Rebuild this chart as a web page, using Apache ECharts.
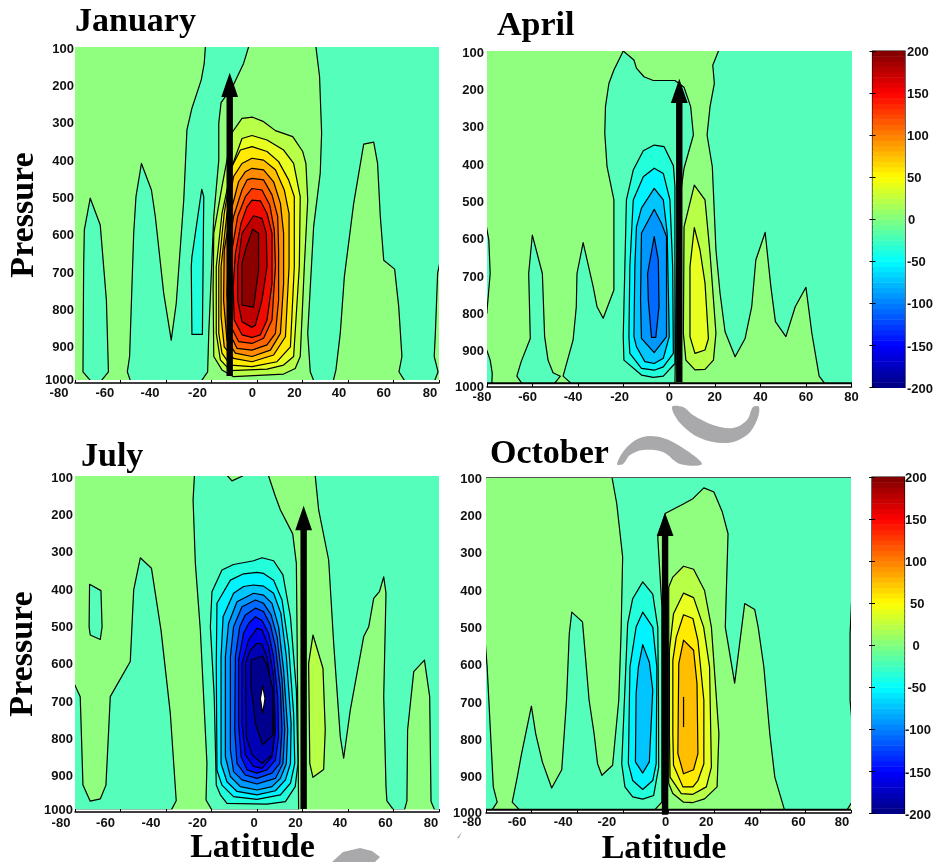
<!DOCTYPE html>
<html><head><meta charset="utf-8">
<script src="https://cdn.jsdelivr.net/npm/echarts@6/dist/echarts.min.js"></script>
<style>html,body{margin:0;padding:0;background:#fff}#c{width:933px;height:862px}</style>
</head><body><div id="c"></div>
<script>
// Tick labels and titles
const monthNames = ['January','April','July','October'];
const latTicks = [-80,-60,-40,-20,0,20,40,60,80];
const pressureTicks = [100,200,300,400,500,600,700,800,900,1000];
const colorbarTicks = [-200,-150,-100,-50,0,50,100,150,200];

// Filled contour regions: [band index, [[latitude, pressure], ...]]
const januaryBands = [
 [-1,[[-76.5,970],[-76.2,688],[-75.9,590],[-73.3,505],[-68.9,577],[-66.2,778],[-65.3,970],[-68.6,995],[-73,995]]],
 [-1,[[-57,970],[-56,929],[-54.2,599],[-53.2,501],[-50.8,412],[-46.4,483],[-44.7,554],[-41,760],[-37.7,885],[-35.5,787],[-32.2,510],[-30.8,322],[-28.6,264],[-24.5,188],[-23.2,144],[-22.7,100],[-22.7,90],[-3.7,90],[-3.7,100],[-5.9,144],[-10.7,206],[-15.8,249],[-16.8,304],[-16.8,403],[-19,554],[-21.2,867],[-21.7,970],[-24.5,995],[-55.6,995]]],
 [-2,[[-28.6,870],[-28.9,688],[-28.6,662],[-24.3,481],[-23.4,501],[-24,870]]],
 [-1,[[25.9,90],[25.9,100],[27.5,179],[28.4,331],[27.8,438],[24.9,581],[22.3,867],[23.4,970],[25,995],[33.5,995],[34.7,965],[36.6,867],[38.4,715],[42.5,519],[46.9,360],[51.3,355],[53,412],[54.2,554],[55.7,671],[60.5,695],[62.3,796],[63.7,929],[62.4,970],[65,995],[78,995],[79.6,970],[77.9,929],[78.4,867],[79.4,706],[80.6,671],[82,650],[82,90]]],
 [1,[[-10.7,327],[-6.6,291],[-1.9,288],[2.9,300],[8.1,324],[15.7,340],[20.1,380],[21.5,412],[22.3,510],[20.8,688],[19,929],[16.8,961],[11.7,976],[-10.3,983],[-15.4,965],[-19,929],[-19.3,751],[-19,599],[-15.4,474],[-13.2,403]]],
 [2,[[-11,420],[-6.6,345],[-2.2,337],[4.4,349],[11.7,376],[16.1,412],[19,501],[18.6,688],[16.1,929],[11.7,952],[4.4,963],[-11.7,967],[-16.1,938],[-17.9,867],[-17.9,688],[-15.4,546]]],
 [3,[[-7.3,376],[-2.2,367],[4.4,380],[9.5,407],[13.9,456],[16.4,501],[16.4,688],[14.7,903],[8.8,943],[-2.2,956],[-11.7,952],[-15.4,920],[-16.8,867],[-16.8,688],[-14.4,546],[-11,420]]],
 [4,[[-6.6,412],[-2.2,398],[2.9,403],[8.1,429],[12,483],[14.1,546],[14.1,688],[12.5,876],[7.3,925],[-2.2,943],[-10.3,934],[-14.4,903],[-15.8,822],[-15.8,688],[-13.2,546],[-10.3,447]]],
 [5,[[-2.2,425],[2.9,429],[7.3,461],[10.3,519],[11.7,599],[11.7,733],[10.3,867],[5.9,912],[-2.2,929],[-9.5,920],[-13.2,885],[-14.7,778],[-14.4,644],[-11.7,546],[-8.1,461],[-5.1,434]]],
 [6,[[-2.2,452],[2.9,456],[6.6,496],[9.1,554],[9.5,644],[9.5,778],[8.1,867],[4.4,898],[-2.2,912],[-8.8,907],[-12,867],[-13.2,760],[-12.5,644],[-10.3,554],[-6.6,483],[-4.4,456]]],
 [7,[[-2.2,479],[2.2,483],[5.6,523],[7.6,590],[8.1,688],[6.6,831],[2.9,880],[-2.2,894],[-8.1,889],[-11,854],[-12,742],[-11,644],[-8.5,554],[-5.1,501]]],
 [8,[[-2.2,510],[1.5,512],[4.4,546],[6.6,599],[6.6,733],[4.4,831],[1.5,871],[-2.2,878],[-6.6,871],[-10,831],[-10.5,742],[-9.5,653],[-7,572],[-4.4,528]]],
 [9,[[-1.5,552],[2.2,559],[4.1,599],[4.4,688],[2.2,778],[-0.7,845],[-2.2,851],[-6.6,836],[-8.5,778],[-8.5,688],[-6.6,599]]],
 [10,[[-1.9,588],[0.7,599],[0.7,697],[-1.5,797],[-6.6,791],[-6.6,679],[-4.7,635]]]
];
const aprilBands = [
 [-1,[[-82,566],[-80.4,566],[-79.2,606],[-78.6,696],[-80.1,803],[-82,820]]],
 [-1,[[-82,880],[-80.4,896],[-78.6,928],[-77.7,963],[-77.9,995],[-82,995]]],
 [-1,[[-60.1,593],[-61.7,696],[-61,870],[-65,932],[-66.9,971],[-64.2,995],[-51,995],[-47.8,971],[-51,962],[-53.2,928],[-54.7,865],[-55.7,696]]],
 [-1,[[-46.6,971],[-42.2,874],[-40.8,785],[-40.5,696],[-37.8,613],[-33.4,731],[-31.7,785],[-29,816],[-24.3,740],[-24.3,499],[-27.3,410],[-28.3,321],[-28,249],[-26.5,187],[-24.3,151],[-20.2,100],[-15.5,124],[-14.4,146],[-11.1,169],[-7,179],[2.5,179],[6.5,197],[9.4,249],[10.6,325],[6.5,414],[5.4,463],[3.2,678],[2.5,995],[-42.2,995]]],
 [-1,[[21.6,90],[21.6,100],[19.1,138],[19.8,187],[17.9,249],[16.6,325],[18.9,410],[20.5,633],[22.3,749],[24.5,852],[28.9,919],[33.3,870],[36.2,785],[38,660],[42.1,586],[44.6,731],[46.6,825],[51.2,865],[55.3,785],[60,733],[62.6,856],[65.8,971],[68.8,995],[82,995],[82,90]]],
 [-2,[[-6.6,352],[-2.3,356],[1.8,407],[2.5,463],[2.5,937],[-2.6,971],[-7,974],[-12.2,968],[-19.9,928],[-20.2,865],[-18.8,499],[-15.8,419],[-11.4,367]]],
 [-3,[[-6.6,414],[-2.6,428],[0.3,499],[1.5,678],[1.8,910],[-2.6,946],[-6.6,955],[-12.2,950],[-17.3,910],[-17.7,865],[-17.3,678],[-15.8,499],[-11.4,437]]],
 [-4,[[-6.6,468],[-2.6,499],[-0.9,588],[0,865],[-2.6,923],[-6.6,937],[-10.7,932],[-14.4,892],[-15.5,865],[-15.1,678],[-14.4,571],[-12.2,521]]],
 [-5,[[-6.6,524],[-3.4,562],[-1.2,597],[-1.2,865],[-6.6,908],[-12.2,870],[-12.6,767],[-12.2,588]]],
 [-6,[[-6.6,597],[-4.8,660],[-4.5,785],[-5.9,867],[-7.8,867],[-9.2,767],[-9.5,696]]],
 [1,[[11,459],[15.7,499],[17.9,642],[20.5,856],[19.4,928],[15.7,953],[11.3,954],[7.3,928],[6.2,856],[6.5,571]]],
 [2,[[11,573],[13.5,633],[15.7,722],[17.2,870],[15.7,901],[11.3,910],[9.1,865],[9.1,678]]]
];
const julyBands = [
 [-1,[[-82,657],[-80.3,657],[-77.7,691],[-76.5,928],[-73.3,971],[-68.9,965],[-66.4,928],[-65.2,780],[-64.5,691],[-55.7,597],[-54.2,405],[-51.3,319],[-46.4,347],[-42.2,513],[-38.1,736],[-35.5,970],[-37.7,995],[-82,995]]],
 [-1,[[-73.6,390],[-68.6,407],[-68.1,504],[-68.9,538],[-73.3,526],[-73.8,504]]],
 [-1,[[-27.5,90],[-27.5,100],[-28.1,164],[-27.1,334],[-24.9,513],[-22,870],[-22.4,968],[-19.8,995],[18.3,995],[17.6,513],[17.3,334],[15.7,255],[10.3,191],[8.1,155],[5.1,100],[5.1,90]]],
 [0,[[-12.9,90],[-12.9,100],[-11,113],[-6.3,100],[-6.3,90]]],
 [-1,[[25.6,90],[25.6,100],[27.1,191],[31.5,325],[33.7,548],[36.6,798],[38.1,856],[41,727],[46.9,530],[49.1,504],[51.3,428],[53.8,410],[55.7,370],[56.7,414],[55.7,691],[56.7,932],[57.1,970],[60.1,995],[64.8,995],[65.9,970],[66.2,780],[68.9,624],[73.6,593],[75.9,691],[76.5,972],[78.1,995],[82,995],[82,90]]],
 [1,[[24.6,526],[29,615],[30,780],[29.3,886],[24.6,907],[23.2,870],[22.7,602]]],
 [-2,[[2.2,319],[7.3,327],[11.4,365],[14.7,477],[17.3,673],[18,870],[16.8,932],[12.5,972],[4.4,979],[-13.2,977],[-16.1,954],[-17.9,928],[-18.8,691],[-20.5,504],[-19.8,410],[-15.4,352],[-10.3,337],[-1.5,327]]],
 [-3,[[0,358],[2.9,361],[7.3,379],[11,432],[13.9,557],[16.1,736],[16.6,870],[14.7,923],[10.3,954],[0,966],[-10.3,959],[-15.4,928],[-17.6,888],[-17.9,602],[-17.6,441],[-11.7,379],[-5.9,362]]],
 [-4,[[-1.5,392],[2.9,395],[7.3,414],[10.5,468],[12.9,584],[15,763],[14.7,870],[12.5,914],[8.1,943],[0,954],[-8.8,945],[-13.2,919],[-15.8,870],[-15.8,584],[-14.9,477],[-10.3,414],[-5.9,396]]],
 [-5,[[-1.5,414],[2.9,419],[6.6,441],[9.5,504],[11.7,620],[13.5,780],[12.9,870],[10.3,910],[6.6,932],[0,941],[-7.3,932],[-11.7,905],[-13.9,852],[-13.9,584],[-12.5,495],[-8.8,437]]],
 [-6,[[-0.7,432],[2.9,441],[6.2,472],[8.8,530],[11,646],[12.2,780],[11.4,870],[8.1,910],[0,925],[-6.6,914],[-10.3,892],[-11.7,834],[-11.7,584],[-10.3,504],[-6.6,450]]],
 [-7,[[-0.7,454],[2.9,463],[5.9,499],[8.1,557],[10.3,673],[11,780],[10,870],[6.6,896],[0,910],[-5.1,901],[-8.8,870],[-9.8,780],[-9.5,584],[-7.6,504],[-5.1,472]]],
 [-8,[[-0.7,477],[2.2,487],[5.1,521],[7.3,584],[9.1,691],[9.5,798],[8.1,861],[4.4,887],[0,896],[-4.4,887],[-7,852],[-8.1,763],[-8.1,593],[-5.9,521],[-3.7,495]]],
 [-9,[[0,508],[2.2,512],[5.1,557],[7.3,637],[8.1,780],[6.6,852],[2.2,883],[-1.5,878],[-5.1,847],[-6.6,763],[-6.6,602],[-3.7,539]]],
 [-10,[[0,548],[2.2,550],[4.4,584],[6.6,673],[7.6,798],[6.6,847],[2.2,870],[-2.2,847],[-4.7,798],[-5.1,602],[-2.9,566]]],
 [-11,[[2.5,582],[4.4,606],[7,673],[7,794],[2.5,820],[-0.7,763],[-2.6,664],[-2.6,593]]],
 [99,[[2.5,662],[3.5,696],[2.5,736],[1.5,696]]]
];
const octoberBands = [
 [-1,[[-82,510],[-80.5,529],[-79.5,609],[-78,788],[-76.8,930],[-75.1,971],[-77.7,995],[-82,995]]],
 [-1,[[-24.8,90],[-24.8,100],[-22.7,171],[-20.1,314],[-20.8,520],[-21.8,698],[-24.5,872],[-29.2,899],[-31.1,868],[-32.6,788],[-34.8,698],[-37.7,488],[-42.4,462],[-43.5,520],[-44.7,698],[-46.8,884],[-51.2,933],[-55.3,863],[-58.2,788],[-60.1,714],[-64.4,841],[-66.3,904],[-68.5,971],[-64.8,995],[-6.6,995],[-2.9,971],[-2.9,448],[-4.7,261],[-1.5,198],[6.3,173],[10.7,158],[15.5,129],[19.9,140],[23.6,194],[26.1,252],[25.4,395],[24.9,502],[29,652],[33.4,439],[37.8,455],[39.3,502],[41.8,609],[44.4,788],[46.6,904],[51,995],[77.9,995],[80.4,971],[82,960],[82,90]]],
 [0,[[80.4,413],[79.6,520],[79.6,698],[80.4,752],[82,760],[82,410]]],
 [-2,[[-11.3,381],[-6.9,414],[-4.7,502],[-4.4,698],[-4.3,877],[-6.5,953],[-11.3,963],[-15.7,957],[-19.1,930],[-20.5,868],[-17.9,493],[-15.7,426]]],
 [-3,[[-11.3,462],[-6.9,502],[-5.1,609],[-5.4,868],[-6.9,913],[-11.3,937],[-15.7,913],[-17.6,868],[-16.9,609],[-14.2,502]]],
 [-4,[[-11.3,549],[-8.4,596],[-6.9,671],[-8.4,863],[-11.3,893],[-14.5,863],[-14.2,680],[-13.2,609]]],
 [1,[[6.6,339],[11,347],[15.8,404],[18.8,502],[22.1,788],[21.3,930],[15.8,962],[10.7,972],[6.6,971],[1.9,948],[0.1,921],[0.1,395],[1.9,368]]],
 [2,[[6.6,411],[11,423],[15.4,502],[18,609],[18.8,877],[16.6,930],[10.7,950],[5.6,948],[0.7,904],[0.4,788],[0.4,564],[2.2,466]]],
 [3,[[6.6,469],[10.7,479],[12.9,538],[15.5,698],[15.5,868],[12.9,913],[10.7,930],[6.3,930],[2.2,872],[1.9,788],[1.9,591],[3.4,529]]],
 [4,[[6.6,537],[11,564],[12.5,654],[12.9,841],[11,884],[6.6,895],[4.1,841],[4.5,600]]],
 [4,[[6.6,689],[6.6,770]]]
];
const panelBands = [januaryBands, aprilBands, julyBands, octoberBands];

// Arrows: latitude, tip pressure, head-base pressure, foot pressure
const arrowLat = [-12, 4.4, 20.5, -1.5];
const arrowTip = [169, 174, 180, 196];
const arrowBase = [234, 239, 245, 258];
const arrowFoot = [981, 987, 992, 1005];

// Pressure at which the filled area stops in each panel
const fillBottom = [992, 990, 993, 991];

// Band colours
const bandIds = [-11,-10,-9,-8,-7,-6,-5,-4,-3,-2,-1,0,1,2,3,4,5,6,7,8,9,10,99];
const bandHex = ['#00008C','#0000B4','#0000DC','#000BFF','#003AFF','#0069FF','#0097FF','#00C5FF','#00F3FF','#24FFDB','#55FFBB','#90FF80','#B8FF48','#E8FF22','#FFEA00','#FFBE00','#FF8C00','#FF6400','#FF3A00','#F00B00','#C00000','#8C0000','#FFFFFF'];
const bandColor = k => bandHex[bandIds.indexOf(k)];

// Layout
const grids = [
 {left:75,top:47,width:364,height:336,outerBoundsMode:'none'},
 {left:487,top:51,width:364.5,height:336,outerBoundsMode:'none'},
 {left:75,top:476,width:364,height:336,outerBoundsMode:'none'},
 {left:486,top:477,width:365,height:336,outerBoundsMode:'none'}
];
const latNudge = [
 [-16,-15.7,-16,-14,-4.7,-8,-9,-9.7,-9],
 [-5,-5,-5,-4,0,0,0,0,0],
 [-14,-15,-15,-14,-3,-7,-8,-8,-8],
 [-14,-14.6,-14,-16,-3,-8,-8,-7,-9]
];
const xLabelMargin = [4,4,4.5,3];
const yLabelMargin = [1,3,2,4];
const pressureGap = [31,0,33,0];
const endLabelPad = [6,0,4,0];
const titlePos = [[75,32],[497,36],[81,467],[490,464]];
const FONT = {fontFamily:'Liberation Sans',fontWeight:'bold',fontSize:13,color:'#111'};
const SERIF = {fontFamily:'Liberation Serif',fontWeight:'bold',fontSize:34,color:'#000'};

// Colour bar
function jet(t){
  const c = x => Math.round(255*Math.max(0,Math.min(1,x)));
  return 'rgb('+c(Math.min(4*t-1.5,-4*t+4.5))+','+c(Math.min(4*t-0.5,-4*t+3.5))+','+c(Math.min(4*t+0.5,-4*t+2.5))+')';
}
const barSteps = 64;
const barCells = [];
for(let i=0;i<barSteps;i++) barCells.push([-200+400*i/barSteps,-200+400*(i+1)/barSteps,(i+0.5)/barSteps]);
const barGrids = [{left:872.5,top:51,width:32.5,height:336.5,outerBoundsMode:'none'},{left:872,top:477,width:32.5,height:336.5,outerBoundsMode:'none'}];
const barNudge = [[0,0,0,0,1,0,0,0,0],[0,0,0,2.5,7.5,5,0,0,0]];
const barMargin = [2,0.5];

const option = {animation:false,backgroundColor:'#fff',title:[],grid:[],xAxis:[],yAxis:[],series:[],
 graphic:[
  {type:'polygon',silent:true,z:-1,shape:{smooth:0.35,points:[[672,407],[680,423],[700,438],[727,443],[747,435],[757,420],[759,407],[753,407],[747,420],[733,428],[713,425],[693,415],[683,407]]},style:{fill:'#a9a9ab'}},
  {type:'polygon',silent:true,z:-1,shape:{smooth:0.35,points:[[617,464],[627,447],[643,437],[663,438],[683,448],[702,464],[680,464],[663,452],[643,450],[630,455],[623,464]]},style:{fill:'#a9a9ab'}},
  {type:'polygon',silent:true,z:-1,shape:{points:[[332,862],[343,852],[360,848],[372,851],[380,857],[375,862]]},style:{fill:'#a9a9ab'}},
  {type:'polygon',silent:true,z:-1,shape:{points:[[457,838],[462,832],[459,838]]},style:{fill:'#a9a9ab'}}
 ]};

monthNames.forEach((name,i)=>{
  option.title.push({text:name,left:titlePos[i][0],top:titlePos[i][1]-26.5,padding:0,textStyle:SERIF});
  option.grid.push(grids[i]);
  const rich = {};
  latTicks.forEach((v,j)=>{rich['t'+j]=Object.assign({},FONT,{padding:[0,-2*latNudge[i][j],0,0]});});
  const bottomRow = i>=2;
  option.xAxis.push({type:'value',gridIndex:i,min:-80,max:80,interval:20,z:5,
    name:bottomRow?'Latitude':'',nameLocation:'middle',nameGap:19,
    nameTextStyle:Object.assign({},SERIF,{padding:[0,9,0,0]}),
    axisLine:{show:true,onZero:false,lineStyle:{color:'#000',width:1.5}},
    axisTick:{inside:true,length:3,lineStyle:{color:'#000',width:1}},splitLine:{show:false},
    axisLabel:{margin:xLabelMargin[i],showMinLabel:true,showMaxLabel:true,hideOverlap:false,
      formatter:v=>'{t'+latTicks.indexOf(v)+'|'+v+'}',rich:rich}});
  const leftCol = i%2===0;
  option.yAxis.push({type:'value',gridIndex:i,inverse:true,min:100,max:1000,interval:100,
    name:leftCol?'Pressure':'',nameLocation:'middle',nameRotate:90,nameGap:pressureGap[i],
    nameTextStyle:Object.assign({},SERIF,i===2?{padding:[0,20,0,0]}:{}),
    axisLine:{show:false},axisTick:{show:false},splitLine:{show:false},
    axisLabel:{margin:yLabelMargin[i],showMinLabel:true,showMaxLabel:true,hideOverlap:false,
      formatter:v=>v===1000?'{e|1000}':'{n|'+v+'}',
      rich:{n:Object.assign({},FONT,{padding:[4,0,0,0]}),e:Object.assign({},FONT,{padding:[0,0,endLabelPad[i],0]})}}});
  const bands = panelBands[i];
  const items = bands.map((b,j)=>[j]);
  option.series.push({type:'custom',xAxisIndex:i,yAxisIndex:i,coordinateSystem:'cartesian2d',clip:true,silent:true,z:2,
    data:[[-1]].concat(items).concat([[-2]]),
    encode:{x:-1,y:-1},
    renderItem:(params,api)=>{
      const j = api.value(0);
      if(j===-1){
        const pts=[[-82,90],[82,90],[82,1010],[-82,1010]].map(p=>api.coord(p));
        return {type:'polygon',shape:{points:pts},style:{fill:bandColor(0),stroke:null}};
      }
      if(j===-2){
        const a=api.coord([-82,fillBottom[i]]),b=api.coord([82,1000]),t=api.coord([-82,100]);
        const black = i%2===1;
        const kids=[
          {type:'rect',shape:{x:a[0],y:a[1],width:b[0]-a[0],height:b[1]-a[1]},style:{fill:'#fff'}},
          {type:'line',shape:{x1:a[0],y1:a[1],x2:b[0],y2:a[1]},style:{stroke:black?'#000':'#fff',lineWidth:black?2:0}}
        ];
        if(i===3) kids.push({type:'line',shape:{x1:a[0],y1:t[1]+0.5,x2:b[0],y2:t[1]+0.5},style:{stroke:'#555',lineWidth:1}});
        return {type:'group',children:kids};
      }
      const b = bands[j];
      const pts = b[1].map(p=>api.coord(p));
      return {type:b[1].length>2?'polygon':'polyline',shape:{points:pts},
        style:{fill:b[1].length>2?bandColor(b[0]):null,stroke:'#000',lineWidth:1.2,lineJoin:'round'}};
    }});
  option.series.push({type:'custom',xAxisIndex:i,yAxisIndex:i,coordinateSystem:'cartesian2d',clip:false,silent:true,z:6,
    data:[[arrowLat[i],arrowTip[i],arrowBase[i],arrowFoot[i]]],encode:{x:0,y:[1,2,3]},
    renderItem:(params,api)=>{
      const lat=api.value(0);
      const tip=api.coord([lat,api.value(1)]),base=api.coord([lat,api.value(2)]),foot=api.coord([lat,api.value(3)]);
      return {type:'group',children:[
        {type:'rect',shape:{x:tip[0]-3.2,y:base[1]-1,width:6.4,height:foot[1]-base[1]+1},style:{fill:'#000'}},
        {type:'polygon',shape:{points:[tip,[tip[0]-8.4,base[1]],[tip[0]+8.4,base[1]]]},style:{fill:'#000'}}
      ]};
    }});
});

barGrids.forEach((g,n)=>{
  const gi = 4+n;
  option.grid.push(Object.assign({show:true,borderColor:'#000',borderWidth:1.2,backgroundColor:'#fff'},g));
  option.xAxis.push({type:'value',gridIndex:gi,min:0,max:1,show:false});
  const rich = {};
  colorbarTicks.forEach((v,j)=>{rich['b'+j]=Object.assign({},FONT,{padding:[3,0,0,barNudge[n][j]]});});
  option.yAxis.push({type:'value',gridIndex:gi,min:-200,max:200,interval:50,position:'right',z:5,
    axisLine:{show:false},axisTick:{inside:true,length:3,lineStyle:{color:'#000'}},splitLine:{show:false},
    axisLabel:{margin:barMargin[n],align:'left',showMinLabel:true,showMaxLabel:true,hideOverlap:false,
      formatter:v=>'{b'+colorbarTicks.indexOf(v)+'|'+v+'}',rich:rich}});
  option.yAxis.push({type:'value',gridIndex:gi,min:-200,max:200,interval:50,position:'left',z:5,
    axisLine:{show:false},axisLabel:{show:false},axisTick:{inside:true,length:3,lineStyle:{color:'#000'}},splitLine:{show:false}});
  const yIdx = option.yAxis.length-2;
  option.series.push({type:'custom',xAxisIndex:gi,yAxisIndex:yIdx,coordinateSystem:'cartesian2d',silent:true,z:2,
    data:barCells,encode:{y:[0,1]},
    renderItem:(params,api)=>{
      const a=api.coord([0,api.value(1)]),b=api.coord([1,api.value(0)]);
      return {type:'rect',shape:{x:a[0],y:a[1],width:b[0]-a[0],height:b[1]-a[1]+0.5},style:{fill:jet(api.value(2))}};
    }});
});

echarts.init(document.getElementById('c'),null,{renderer:'canvas'}).setOption(option);
</script></body></html>
